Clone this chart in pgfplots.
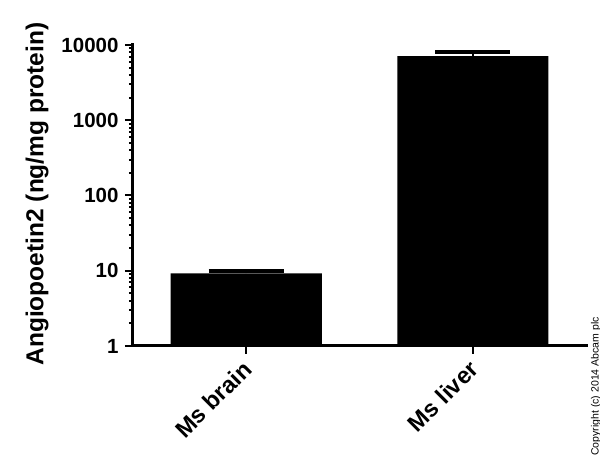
\documentclass[border=0pt]{standalone}
\usepackage{pgfplots}
\pgfplotsset{compat=1.18}
\usepackage{fontspec}
\setmainfont{Liberation Sans}

\pgfplotstableread{
x  y     err
0  9.2   0.6
1  7100  900
}\datatable

\begin{document}
\begin{tikzpicture}
% fixed page: axis box sits at (0,0), image is 600 x 465
\path[use as bounding box] (-133pt,-119pt) rectangle (467pt,346pt);
\begin{axis}[
    at={(0,0)}, anchor=south west,
    scale only axis,
    width=453pt, height=301pt,
    ymode=log,
    ymin=1, ymax=10000,
    xmin=-0.5, xmax=1.5,
    axis lines*=left,
    axis line style={line width=3pt, line cap=rect},
    every axis line/.append style={-},
    tick style={line width=2pt, black},
    major tick length=8pt,
    minor tick length=4pt,
    tick align=outside,
    ytick={1,10,100,1000,10000},
    yticklabels={1,10,100,1000,10000},
    xtick={0,1},
    xticklabels={Ms brain,Ms liver},
    /pgf/number format/assume math mode=true,
    yticklabel style={font=\fontsize{20.5}{20.5}\selectfont\bfseries, xshift=-3pt},
    xticklabel style={font=\fontsize{23.5}{23.5}\selectfont\bfseries,
        rotate=45, anchor=north east, inner sep=2pt, xshift=-5pt, yshift=2pt},
    ylabel={Angiopoetin2 (ng/mg protein)},
    ylabel style={font=\fontsize{24.5}{24.5}\selectfont\bfseries,
        at={(axis description cs:0,0.505)}, anchor=center, yshift=96pt},
    ybar,
    bar width=151pt,
    clip=false,
]
\addplot[fill=black, draw=none,
    error bars/.cd, y dir=plus, y explicit,
    error bar style={line width=2pt, black},
    error mark options={rotate=90, mark size=37.5pt, line width=4pt, black}]
    table[x=x, y=y, y error=err] {\datatable};
\end{axis}
\node[rotate=90, inner sep=0pt, font=\fontsize{10.5}{10.5}\selectfont]
    at (463pt,-40.5pt) {Copyright (c) 2014 Abcam plc};
\end{tikzpicture}
\end{document}
